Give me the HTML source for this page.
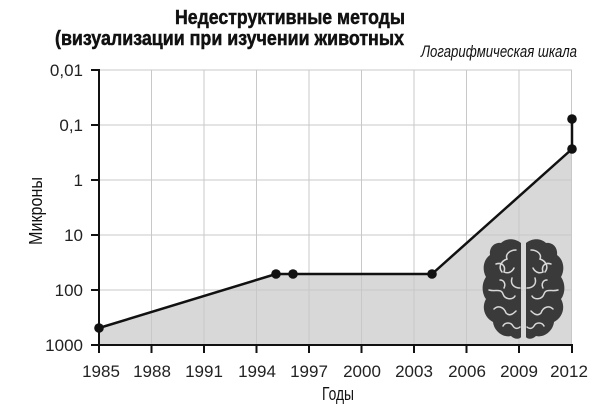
<!DOCTYPE html>
<html>
<head>
<meta charset="utf-8">
<style>
html,body{margin:0;padding:0;background:#fff;}
svg{display:block;}
text{font-family:"Liberation Sans","DejaVu Sans",sans-serif;}
</style>
</head>
<body>
<svg width="600" height="409" viewBox="0 0 600 409" xmlns="http://www.w3.org/2000/svg">
  <rect x="0" y="0" width="600" height="409" fill="#fff"/>

  <!-- Title -->
  <text x="175" y="24" font-size="20" font-weight="bold" fill="#111" stroke="#111" stroke-width="0.5" textLength="230" lengthAdjust="spacingAndGlyphs">Недеструктивные методы</text>
  <text x="55" y="45" font-size="20" font-weight="bold" fill="#111" stroke="#111" stroke-width="0.5" textLength="349" lengthAdjust="spacingAndGlyphs">(визуализации при изучении животных</text>
  <text x="421" y="57" font-size="16.5" font-style="italic" fill="#111" textLength="156" lengthAdjust="spacingAndGlyphs">Логарифмическая шкала</text>

  <!-- Fill area -->
  <polygon points="99,328 276,274 293,274 432,274 572,149 572,345 99,345" fill="#d8d8d8"/>

  <!-- Grid -->
  <g stroke="#c8c8c8" stroke-width="1">
    <line x1="99" y1="70" x2="572" y2="70"/>
    <line x1="99" y1="125" x2="572" y2="125"/>
    <line x1="99" y1="180" x2="572" y2="180"/>
    <line x1="99" y1="235" x2="572" y2="235"/>
    <line x1="99" y1="290" x2="572" y2="290"/>
    <line x1="151.5" y1="70" x2="151.5" y2="345"/>
    <line x1="204" y1="70" x2="204" y2="345"/>
    <line x1="256.5" y1="70" x2="256.5" y2="345"/>
    <line x1="309" y1="70" x2="309" y2="345"/>
    <line x1="361.5" y1="70" x2="361.5" y2="345"/>
    <line x1="414" y1="70" x2="414" y2="345"/>
    <line x1="466.5" y1="70" x2="466.5" y2="345"/>
    <line x1="519" y1="70" x2="519" y2="345"/>
    <line x1="571.5" y1="70" x2="571.5" y2="345"/>
  </g>

  <!-- Brain -->
  <g>
    <g id="lh">
      <path d="M521,243 C515,238 506,238 501,243 C494,242 489,248 490,255 C483,260 482,270 486,277 C481,284 482,294 486,299 C481,308 485,318 493,322 C494,331 503,338 511,336 C515,340 520,339 521,337 Z" fill="#3a3a3a"/>
      <g fill="none" stroke="#d8d8d8" stroke-width="1.5" stroke-linecap="round">
        <path d="M516,250 c-6,0 -11,4 -9,9 c-6,2 -9,8 -5,13"/>
        <path d="M496,264 c6,-2 10,2 8,8 c4,2 8,0 10,-4"/>
        <path d="M489,290 c6,2 12,-2 14,4 c2,6 10,6 12,2"/>
        <path d="M494,309 c4,-4 10,-2 12,4 c4,4 8,0 10,-2"/>
        <path d="M503,326 c2,-4 8,-4 10,0 c2,3 5,3 7,1"/>
        <path d="M512,278 c-2,6 2,10 8,10"/>
        <path d="M500,280 c4,0 6,4 4,8"/>
      </g>
    </g>
    <use href="#lh" transform="translate(1047,0) scale(-1,1)"/>
    <line x1="523.5" y1="243" x2="523.5" y2="338" stroke="#d8d8d8" stroke-width="1.5"/>
  </g>

  <!-- Data line -->
  <polyline points="99,328 276,274 293,274 432,274 572,149" fill="none" stroke="#111" stroke-width="2.5" stroke-linejoin="round"/>
  <line x1="572" y1="149" x2="572" y2="119" stroke="#111" stroke-width="2.5"/>
  <g fill="#111">
    <circle cx="99" cy="328" r="4.8"/>
    <circle cx="276" cy="274" r="4.8"/>
    <circle cx="293" cy="274" r="4.8"/>
    <circle cx="432" cy="274" r="4.8"/>
    <circle cx="572" cy="149" r="4.8"/>
    <circle cx="572" cy="119" r="4.8"/>
  </g>

  <!-- Axes -->
  <g stroke="#111" stroke-width="2">
    <line x1="99" y1="69" x2="99" y2="346"/>
    <line x1="91" y1="345" x2="573" y2="345"/>
    <line x1="91" y1="70" x2="99" y2="70"/>
    <line x1="91" y1="125" x2="99" y2="125"/>
    <line x1="91" y1="180" x2="99" y2="180"/>
    <line x1="91" y1="235" x2="99" y2="235"/>
    <line x1="91" y1="290" x2="99" y2="290"/>
    <line x1="99" y1="345" x2="99" y2="353"/>
    <line x1="151.5" y1="345" x2="151.5" y2="353"/>
    <line x1="204" y1="345" x2="204" y2="353"/>
    <line x1="256.5" y1="345" x2="256.5" y2="353"/>
    <line x1="309" y1="345" x2="309" y2="353"/>
    <line x1="361.5" y1="345" x2="361.5" y2="353"/>
    <line x1="414" y1="345" x2="414" y2="353"/>
    <line x1="466.5" y1="345" x2="466.5" y2="353"/>
    <line x1="519" y1="345" x2="519" y2="353"/>
    <line x1="572" y1="345" x2="572" y2="353"/>
  </g>

  <!-- Y tick labels -->
  <g font-size="17" fill="#222" text-anchor="end">
    <text x="83" y="76">0,01</text>
    <text x="83" y="131">0,1</text>
    <text x="83" y="186">1</text>
    <text x="83" y="241">10</text>
    <text x="83" y="296">100</text>
    <text x="83" y="351">1000</text>
  </g>

  <!-- X tick labels -->
  <g font-size="17" fill="#222" text-anchor="middle">
    <text x="101" y="377">1985</text>
    <text x="152" y="377">1988</text>
    <text x="204" y="377">1991</text>
    <text x="257" y="377">1994</text>
    <text x="309" y="377">1997</text>
    <text x="362" y="377">2000</text>
    <text x="414" y="377">2003</text>
    <text x="467" y="377">2006</text>
    <text x="519" y="377">2009</text>
    <text x="569" y="377">2012</text>
  </g>

  <!-- Axis titles -->
  <text x="322" y="400" font-size="18" fill="#111" textLength="32" lengthAdjust="spacingAndGlyphs">Годы</text>
  <text transform="translate(42,211) rotate(-90)" x="0" y="0" font-size="18" fill="#111" text-anchor="middle" textLength="68" lengthAdjust="spacingAndGlyphs">Микроны</text>
</svg>
</body>
</html>
